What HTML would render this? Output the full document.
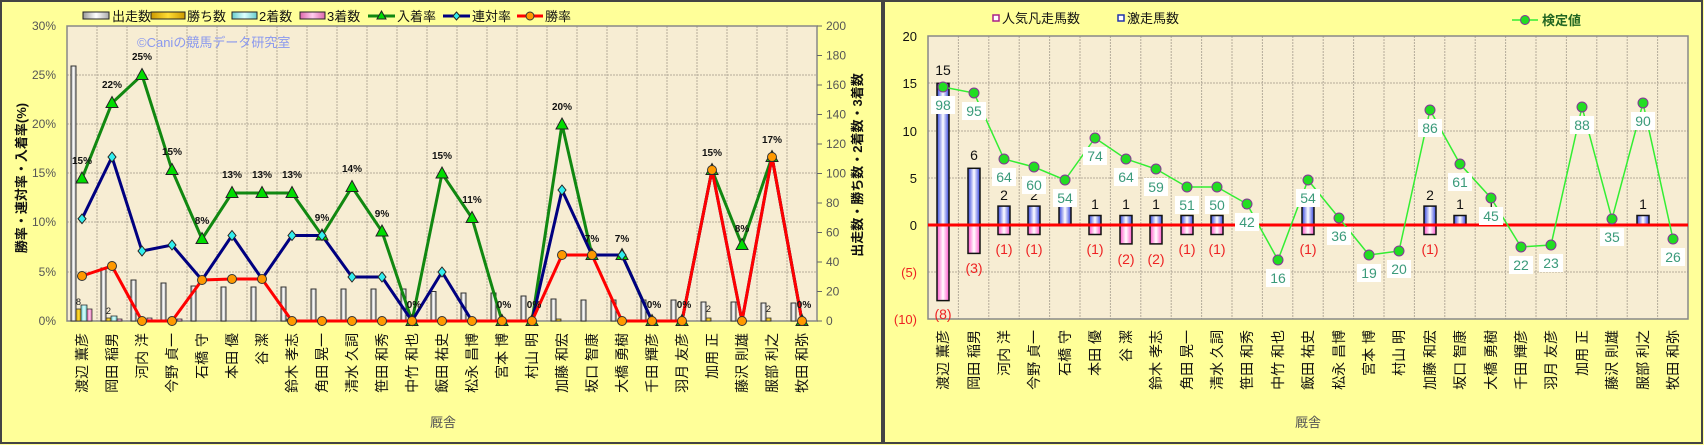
<!DOCTYPE html>
<html><head><meta charset="utf-8"><style>
html,body{margin:0;padding:0;background:#ffff99;}
svg{display:block;font-family:"Liberation Sans","Noto Sans CJK JP",sans-serif;}
</style></head><body>
<svg width="1704" height="445" viewBox="0 0 1704 445" xmlns="http://www.w3.org/2000/svg">
<defs>
<linearGradient id="gw" x1="0" x2="1"><stop offset="0" stop-color="#999"/><stop offset="0.5" stop-color="#fff"/><stop offset="1" stop-color="#aaa"/></linearGradient>
<linearGradient id="gb" x1="0" x2="1"><stop offset="0" stop-color="#3344dd"/><stop offset="0.5" stop-color="#ffffff"/><stop offset="1" stop-color="#3344dd"/></linearGradient>
<linearGradient id="gp" x1="0" x2="1"><stop offset="0" stop-color="#ff55cc"/><stop offset="0.5" stop-color="#ffffff"/><stop offset="1" stop-color="#ff55cc"/></linearGradient>
<linearGradient id="gy" x1="0" x2="1"><stop offset="0" stop-color="#cc9900"/><stop offset="0.5" stop-color="#ffdd33"/><stop offset="1" stop-color="#cc9900"/></linearGradient>
<linearGradient id="gc" x1="0" x2="1"><stop offset="0" stop-color="#66cccc"/><stop offset="0.5" stop-color="#ddffff"/><stop offset="1" stop-color="#66cccc"/></linearGradient>
<linearGradient id="gq" x1="0" x2="1"><stop offset="0" stop-color="#dd66aa"/><stop offset="0.5" stop-color="#ffccee"/><stop offset="1" stop-color="#dd66aa"/></linearGradient>
</defs>
<!-- panels -->
<rect x="1" y="1" width="881" height="442" fill="#ffff99" stroke="#444" stroke-width="2"/>
<rect x="884" y="1" width="818" height="442" fill="#ffff99" stroke="#444" stroke-width="2"/>

<!-- ============ LEFT CHART ============ -->
<rect x="67" y="26" width="750" height="295" fill="#f7edd3"/>
<g stroke="#b4ab9a" stroke-width="1" stroke-dasharray="2,1">
<line x1="67" x2="817" y1="75" y2="75"/><line x1="67" x2="817" y1="124" y2="124"/><line x1="67" x2="817" y1="173" y2="173"/><line x1="67" x2="817" y1="222" y2="222"/><line x1="67" x2="817" y1="272" y2="272"/>
<line x1="97" x2="97" y1="26" y2="321"/><line x1="127" x2="127" y1="26" y2="321"/><line x1="157" x2="157" y1="26" y2="321"/><line x1="187" x2="187" y1="26" y2="321"/><line x1="217" x2="217" y1="26" y2="321"/><line x1="247" x2="247" y1="26" y2="321"/><line x1="277" x2="277" y1="26" y2="321"/><line x1="307" x2="307" y1="26" y2="321"/><line x1="337" x2="337" y1="26" y2="321"/><line x1="367" x2="367" y1="26" y2="321"/><line x1="397" x2="397" y1="26" y2="321"/><line x1="427" x2="427" y1="26" y2="321"/><line x1="457" x2="457" y1="26" y2="321"/><line x1="487" x2="487" y1="26" y2="321"/><line x1="517" x2="517" y1="26" y2="321"/><line x1="547" x2="547" y1="26" y2="321"/><line x1="577" x2="577" y1="26" y2="321"/><line x1="607" x2="607" y1="26" y2="321"/><line x1="637" x2="637" y1="26" y2="321"/><line x1="667" x2="667" y1="26" y2="321"/><line x1="697" x2="697" y1="26" y2="321"/><line x1="727" x2="727" y1="26" y2="321"/><line x1="757" x2="757" y1="26" y2="321"/><line x1="787" x2="787" y1="26" y2="321"/>
</g>
<rect x="67" y="26" width="750" height="295" fill="none" stroke="#888" stroke-width="1.5"/>
<g stroke="#666" stroke-width="1">
<line x1="817" x2="822" y1="26" y2="26"/><line x1="817" x2="822" y1="55.5" y2="55.5"/><line x1="817" x2="822" y1="85" y2="85"/><line x1="817" x2="822" y1="114.5" y2="114.5"/><line x1="817" x2="822" y1="144" y2="144"/><line x1="817" x2="822" y1="173.5" y2="173.5"/><line x1="817" x2="822" y1="203" y2="203"/><line x1="817" x2="822" y1="232.5" y2="232.5"/><line x1="817" x2="822" y1="262" y2="262"/><line x1="817" x2="822" y1="291.5" y2="291.5"/><line x1="817" x2="822" y1="321" y2="321"/>
</g>
<text x="137" y="47" font-size="13" fill="#8a98ee">©Caniの競馬データ研究室</text>
<g font-size="12" fill="#555" text-anchor="end">
<text x="56" y="30">30%</text><text x="56" y="79">25%</text><text x="56" y="128">20%</text><text x="56" y="177">15%</text><text x="56" y="226">10%</text><text x="56" y="276">5%</text><text x="56" y="325">0%</text>
</g>
<g font-size="12" fill="#555">
<text x="826" y="30">200</text><text x="826" y="59.5">180</text><text x="826" y="89">160</text><text x="826" y="118.5">140</text><text x="826" y="148">120</text><text x="826" y="177.5">100</text><text x="826" y="207">80</text><text x="826" y="236.5">60</text><text x="826" y="266">40</text><text x="826" y="295.5">20</text><text x="826" y="325">0</text>
</g>
<text transform="translate(26,178) rotate(-90)" font-size="13" font-weight="bold" fill="#111" text-anchor="middle">勝率・連対率・入着率(%)</text>
<text transform="translate(862,165) rotate(-90)" font-size="13" font-weight="bold" fill="#111" text-anchor="middle">出走数・勝ち数・2着数・3着数</text>
<g font-size="13" fill="#111">
<rect x="83" y="12" width="26" height="7" fill="url(#gw)" stroke="#222"/><text x="112" y="21">出走数</text>
<rect x="151" y="12" width="34" height="7" fill="url(#gy)" stroke="#222"/><text x="187" y="21">勝ち数</text>
<rect x="232" y="12" width="25" height="7" fill="url(#gc)" stroke="#222"/><text x="259" y="21">2着数</text>
<rect x="300" y="12" width="25" height="7" fill="url(#gq)" stroke="#222"/><text x="327" y="21">3着数</text>
<line x1="368" x2="395" y1="16" y2="16" stroke="#118811" stroke-width="3"/><polygon points="381.5,11 386,19 377,19" fill="#00dd00" stroke="#222"/><text x="397" y="21">入着率</text>
<line x1="443" x2="470" y1="16" y2="16" stroke="#000080" stroke-width="3"/><polygon points="456.5,12 460,16 456.5,20 453,16" fill="#33eeee" stroke="#222"/><text x="472" y="21">連対率</text>
<line x1="517" x2="543" y1="16" y2="16" stroke="#ff0000" stroke-width="3"/><circle cx="530" cy="16" r="4" fill="#ff9900" stroke="#333"/><text x="545" y="21">勝率</text>
</g>
<g fill="url(#gw)" stroke="#333" stroke-width="1">
<rect x="71" y="66" width="5" height="255"/><rect x="101" y="268" width="5" height="53"/><rect x="131" y="280" width="5" height="41"/><rect x="161" y="283" width="5" height="38"/><rect x="191" y="286" width="5" height="35"/><rect x="221" y="287" width="5" height="34"/><rect x="251" y="287" width="5" height="34"/><rect x="281" y="287" width="5" height="34"/><rect x="311" y="289" width="5" height="32"/><rect x="341" y="289" width="5" height="32"/><rect x="371" y="289" width="5" height="32"/><rect x="401" y="289" width="5" height="32"/><rect x="431" y="291.5" width="5" height="29.5"/><rect x="461" y="293" width="5" height="28"/><rect x="491" y="293" width="5" height="28"/><rect x="521" y="296" width="5" height="25"/><rect x="551" y="299" width="5" height="22"/><rect x="581" y="300" width="5" height="21"/><rect x="611" y="300" width="5" height="21"/><rect x="641" y="300" width="5" height="21"/><rect x="671" y="300" width="5" height="21"/><rect x="701" y="302" width="5" height="19"/><rect x="731" y="302" width="5" height="19"/><rect x="761" y="303" width="5" height="18"/><rect x="791" y="303" width="5" height="18"/>
</g>
<g stroke="#333" stroke-width="0.8">
<rect x="76" y="309" width="5" height="12" fill="url(#gy)"/><rect x="81" y="305" width="6" height="16" fill="url(#gc)"/><rect x="87" y="309" width="5" height="12" fill="url(#gq)"/>
<rect x="106" y="318" width="5" height="3" fill="url(#gy)"/><rect x="111" y="316" width="6" height="5" fill="url(#gc)"/><rect x="117" y="319" width="5" height="2" fill="url(#gq)"/>
<rect x="147" y="318" width="5" height="3" fill="url(#gq)"/><rect x="177" y="319" width="5" height="2" fill="url(#gq)"/>
<rect x="287" y="319" width="5" height="2" fill="url(#gq)"/><rect x="556" y="319" width="5" height="2" fill="url(#gy)"/><rect x="706" y="318" width="5" height="3" fill="url(#gy)"/><rect x="766" y="318" width="5" height="3" fill="url(#gy)"/>
</g>
<g font-size="9" fill="#222"><text x="76" y="305">8</text><text x="106" y="314">2</text><text x="706" y="312">2</text><text x="766" y="312">2</text></g>
<polyline fill="none" stroke="#118811" stroke-width="3" points="82,178.5 112,103 142,75 172,170 202,239 232,193 262,193 292,193 322,235.5 352,187 382,231.5 412,321 442,173.5 472,218 502,321 532,321 562,124.4 592,255 622,255 652,321 682,321 712,170 742,245 772,157 802,321"/>
<polyline fill="none" stroke="#000080" stroke-width="3" points="82,218.8 112,157 142,251 172,245 202,280 232,235.5 262,279 292,235.5 322,235.5 352,277 382,277 412,321 442,272 472,321 502,321 532,321 562,190 592,255 622,255 652,321 682,321 712,170 742,321 772,157 802,321"/>
<polyline fill="none" stroke="#ff0000" stroke-width="3" points="82,276 112,266 142,321 172,321 202,280 232,279 262,279 292,321 322,321 352,321 382,321 412,321 442,321 472,321 502,321 532,321 562,255 592,255 622,321 652,321 682,321 712,170 742,321 772,157 802,321"/>
<g fill="#00dd00" stroke="#222" stroke-width="1">
<polygon points="82,172 88,183 76,183"/><polygon points="112,96.5 118,107.5 106,107.5"/><polygon points="142,68.5 148,79.5 136,79.5"/><polygon points="172,163.5 178,174.5 166,174.5"/><polygon points="202,232.5 208,243.5 196,243.5"/><polygon points="232,186.5 238,197.5 226,197.5"/><polygon points="262,186.5 268,197.5 256,197.5"/><polygon points="292,186.5 298,197.5 286,197.5"/><polygon points="322,229 328,240 316,240"/><polygon points="352,180.5 358,191.5 346,191.5"/><polygon points="382,225 388,236 376,236"/><polygon points="412,314.5 418,325.5 406,325.5"/><polygon points="442,167 448,178 436,178"/><polygon points="472,211.5 478,222.5 466,222.5"/><polygon points="502,314.5 508,325.5 496,325.5"/><polygon points="532,314.5 538,325.5 526,325.5"/><polygon points="562,118 568,129 556,129"/><polygon points="592,248.5 598,259.5 586,259.5"/><polygon points="622,248.5 628,259.5 616,259.5"/><polygon points="652,314.5 658,325.5 646,325.5"/><polygon points="682,314.5 688,325.5 676,325.5"/><polygon points="712,163.5 718,174.5 706,174.5"/><polygon points="742,238.5 748,249.5 736,249.5"/><polygon points="772,150.5 778,161.5 766,161.5"/><polygon points="802,314.5 808,325.5 796,325.5"/>
</g>
<g fill="#33eeee" stroke="#222" stroke-width="1">
<polygon points="82,214 86,218.8 82,223.6 78,218.8"/><polygon points="112,152 116,157 112,162 108,157"/><polygon points="142,246 146,251 142,256 138,251"/><polygon points="172,240 176,245 172,250 168,245"/><polygon points="232,230.5 236,235.5 232,240.5 228,235.5"/><polygon points="292,230.5 296,235.5 292,240.5 288,235.5"/><polygon points="322,230.5 326,235.5 322,240.5 318,235.5"/><polygon points="352,272 356,277 352,282 348,277"/><polygon points="382,272 386,277 382,282 378,277"/><polygon points="442,267 446,272 442,277 438,272"/><polygon points="562,185 566,190 562,195 558,190"/><polygon points="622,250 626,255 622,260 618,255"/>
</g>
<g fill="#ff9900" stroke="#333" stroke-width="1">
<circle cx="82" cy="276" r="4.5"/><circle cx="112" cy="266" r="4.5"/><circle cx="142" cy="321" r="4.5"/><circle cx="172" cy="321" r="4.5"/><circle cx="202" cy="280" r="4.5"/><circle cx="232" cy="279" r="4.5"/><circle cx="262" cy="279" r="4.5"/><circle cx="292" cy="321" r="4.5"/><circle cx="322" cy="321" r="4.5"/><circle cx="352" cy="321" r="4.5"/><circle cx="382" cy="321" r="4.5"/><circle cx="412" cy="321" r="4.5"/><circle cx="442" cy="321" r="4.5"/><circle cx="472" cy="321" r="4.5"/><circle cx="502" cy="321" r="4.5"/><circle cx="532" cy="321" r="4.5"/><circle cx="562" cy="255" r="4.5"/><circle cx="592" cy="255" r="4.5"/><circle cx="622" cy="321" r="4.5"/><circle cx="652" cy="321" r="4.5"/><circle cx="682" cy="321" r="4.5"/><circle cx="712" cy="170" r="4.5"/><circle cx="742" cy="321" r="4.5"/><circle cx="772" cy="157" r="4.5"/><circle cx="802" cy="321" r="4.5"/>
</g>
<g font-size="10" font-weight="bold" fill="#111" text-anchor="middle">
<text x="82" y="164">15%</text><text x="112" y="88">22%</text><text x="142" y="60">25%</text><text x="172" y="155">15%</text><text x="202" y="224">8%</text><text x="232" y="178">13%</text><text x="262" y="178">13%</text><text x="292" y="178">13%</text><text x="322" y="221">9%</text><text x="352" y="172">14%</text><text x="382" y="217">9%</text><text x="414" y="308">0%</text><text x="442" y="159">15%</text><text x="472" y="203">11%</text><text x="504" y="308">0%</text><text x="534" y="308">0%</text><text x="562" y="110">20%</text><text x="592" y="242">7%</text><text x="622" y="242">7%</text><text x="654" y="308">0%</text><text x="684" y="308">0%</text><text x="712" y="156">15%</text><text x="742" y="232">8%</text><text x="772" y="143">17%</text><text x="804" y="308">0%</text>
</g>
<g font-size="14" fill="#111" text-anchor="end">
<text transform="translate(87,333) rotate(-90)">渡辺 薫彦</text><text transform="translate(117,333) rotate(-90)">岡田 稲男</text><text transform="translate(147,333) rotate(-90)">河内 洋</text><text transform="translate(177,333) rotate(-90)">今野 貞一</text><text transform="translate(207,333) rotate(-90)">石橋 守</text><text transform="translate(237,333) rotate(-90)">本田 優</text><text transform="translate(267,333) rotate(-90)">谷 潔</text><text transform="translate(297,333) rotate(-90)">鈴木 孝志</text><text transform="translate(327,333) rotate(-90)">角田 晃一</text><text transform="translate(357,333) rotate(-90)">清水 久詞</text><text transform="translate(387,333) rotate(-90)">笹田 和秀</text><text transform="translate(417,333) rotate(-90)">中竹 和也</text><text transform="translate(447,333) rotate(-90)">飯田 祐史</text><text transform="translate(477,333) rotate(-90)">松永 昌博</text><text transform="translate(507,333) rotate(-90)">宮本 博</text><text transform="translate(537,333) rotate(-90)">村山 明</text><text transform="translate(567,333) rotate(-90)">加藤 和宏</text><text transform="translate(597,333) rotate(-90)">坂口 智康</text><text transform="translate(627,333) rotate(-90)">大橋 勇樹</text><text transform="translate(657,333) rotate(-90)">千田 輝彦</text><text transform="translate(687,333) rotate(-90)">羽月 友彦</text><text transform="translate(717,333) rotate(-90)">加用 正</text><text transform="translate(747,333) rotate(-90)">藤沢 則雄</text><text transform="translate(777,333) rotate(-90)">服部 利之</text><text transform="translate(807,333) rotate(-90)">牧田 和弥</text>
</g>
<text x="443" y="427" font-size="13" fill="#555" text-anchor="middle">厩舎</text>

<!-- ============ RIGHT CHART ============ -->
<rect x="928" y="36" width="760" height="283" fill="#f7edd3"/>
<g stroke="#b4ab9a" stroke-width="1" stroke-dasharray="2,1">
<line x1="928" x2="1688" y1="83" y2="83"/><line x1="928" x2="1688" y1="131" y2="131"/><line x1="928" x2="1688" y1="178" y2="178"/><line x1="928" x2="1688" y1="272" y2="272"/>
<line x1="958.4" x2="958.4" y1="36" y2="319"/><line x1="988.8" x2="988.8" y1="36" y2="319"/><line x1="1019.2" x2="1019.2" y1="36" y2="319"/><line x1="1049.6" x2="1049.6" y1="36" y2="319"/><line x1="1080" x2="1080" y1="36" y2="319"/><line x1="1110.4" x2="1110.4" y1="36" y2="319"/><line x1="1140.8" x2="1140.8" y1="36" y2="319"/><line x1="1171.2" x2="1171.2" y1="36" y2="319"/><line x1="1201.6" x2="1201.6" y1="36" y2="319"/><line x1="1232" x2="1232" y1="36" y2="319"/><line x1="1262.4" x2="1262.4" y1="36" y2="319"/><line x1="1292.8" x2="1292.8" y1="36" y2="319"/><line x1="1323.2" x2="1323.2" y1="36" y2="319"/><line x1="1353.6" x2="1353.6" y1="36" y2="319"/><line x1="1384" x2="1384" y1="36" y2="319"/><line x1="1414.4" x2="1414.4" y1="36" y2="319"/><line x1="1444.8" x2="1444.8" y1="36" y2="319"/><line x1="1475.2" x2="1475.2" y1="36" y2="319"/><line x1="1505.6" x2="1505.6" y1="36" y2="319"/><line x1="1536" x2="1536" y1="36" y2="319"/><line x1="1566.4" x2="1566.4" y1="36" y2="319"/><line x1="1596.8" x2="1596.8" y1="36" y2="319"/><line x1="1627.2" x2="1627.2" y1="36" y2="319"/><line x1="1657.6" x2="1657.6" y1="36" y2="319"/>
</g>
<rect x="928" y="36" width="760" height="283" fill="none" stroke="#888" stroke-width="1.5"/>
<g font-size="13" fill="#111" text-anchor="end">
<text x="917" y="41">20</text><text x="917" y="88">15</text><text x="917" y="136">10</text><text x="917" y="183">5</text><text x="917" y="230">0</text>
</g>
<g font-size="13" fill="#ee2222" text-anchor="end"><text x="917" y="277">(5)</text><text x="917" y="324">(10)</text></g>
<g font-size="13" fill="#111">
<rect x="993" y="15" width="6" height="6" fill="#fff" stroke="#aa2288" stroke-width="1.5"/><text x="1002" y="23">人気凡走馬数</text>
<rect x="1118" y="15" width="6" height="6" fill="#fff" stroke="#2233aa" stroke-width="1.5"/><text x="1127" y="23">激走馬数</text>
<line x1="1512" x2="1538" y1="20" y2="20" stroke="#33ee33" stroke-width="1.5"/><circle cx="1525" cy="20" r="4.5" fill="#22dd22" stroke="#883399"/>
<text x="1542" y="25" fill="#226622" font-weight="bold">検定値</text>
</g>
<g stroke="#111" stroke-width="1.5">
<rect x="937" y="83.3" width="12" height="141.7" fill="url(#gb)"/><rect x="968" y="168.3" width="12" height="56.7" fill="url(#gb)"/><rect x="998" y="206.1" width="12" height="18.9" fill="url(#gb)"/><rect x="1028" y="206.1" width="12" height="18.9" fill="url(#gb)"/><rect x="1059" y="206.1" width="12" height="18.9" fill="url(#gb)"/><rect x="1089" y="215.5" width="12" height="9.5" fill="url(#gb)"/><rect x="1120" y="215.5" width="12" height="9.5" fill="url(#gb)"/><rect x="1150" y="215.5" width="12" height="9.5" fill="url(#gb)"/><rect x="1181" y="215.5" width="12" height="9.5" fill="url(#gb)"/><rect x="1211" y="215.5" width="12" height="9.5" fill="url(#gb)"/><rect x="1241" y="215.5" width="12" height="9.5" fill="url(#gb)"/><rect x="1302" y="206.1" width="12" height="18.9" fill="url(#gb)"/><rect x="1424" y="206.1" width="12" height="18.9" fill="url(#gb)"/><rect x="1454" y="215.5" width="12" height="9.5" fill="url(#gb)"/><rect x="1485" y="215.5" width="12" height="9.5" fill="url(#gb)"/><rect x="1637" y="215.5" width="12" height="9.5" fill="url(#gb)"/>
<rect x="937" y="225" width="12" height="75.6" fill="url(#gp)"/><rect x="968" y="225" width="12" height="28.4" fill="url(#gp)"/><rect x="998" y="225" width="12" height="9.5" fill="url(#gp)"/><rect x="1028" y="225" width="12" height="9.5" fill="url(#gp)"/><rect x="1089" y="225" width="12" height="9.5" fill="url(#gp)"/><rect x="1120" y="225" width="12" height="18.9" fill="url(#gp)"/><rect x="1150" y="225" width="12" height="18.9" fill="url(#gp)"/><rect x="1181" y="225" width="12" height="9.5" fill="url(#gp)"/><rect x="1211" y="225" width="12" height="9.5" fill="url(#gp)"/><rect x="1302" y="225" width="12" height="9.5" fill="url(#gp)"/><rect x="1424" y="225" width="12" height="9.5" fill="url(#gp)"/>
</g>
<line x1="928" x2="1688" y1="225" y2="225" stroke="#ff0000" stroke-width="3"/>
<g font-size="14" fill="#111" text-anchor="middle">
<text x="943" y="75">15</text><text x="974" y="160">6</text><text x="1004" y="200">2</text><text x="1034" y="200">2</text><text x="1065" y="200">2</text><text x="1095" y="209">1</text><text x="1126" y="209">1</text><text x="1156" y="209">1</text><text x="1187" y="209">1</text><text x="1217" y="209">1</text><text x="1247" y="209">1</text><text x="1308" y="200">2</text><text x="1430" y="200">2</text><text x="1460" y="209">1</text><text x="1491" y="209">1</text><text x="1643" y="209">1</text>
</g>
<g font-size="14" fill="#ee2222" text-anchor="middle">
<text x="943" y="319">(8)</text><text x="974" y="273">(3)</text><text x="1004" y="254">(1)</text><text x="1034" y="254">(1)</text><text x="1095" y="254">(1)</text><text x="1126" y="264">(2)</text><text x="1156" y="264">(2)</text><text x="1187" y="254">(1)</text><text x="1217" y="254">(1)</text><text x="1308" y="254">(1)</text><text x="1430" y="254">(1)</text>
</g>
<polyline fill="none" stroke="#33ee33" stroke-width="1.5" points="943,87 974,93 1004,159 1034,167 1065,180 1095,138 1126,159 1156,169 1187,187 1217,187 1247,204 1278,260 1308,180 1339,218 1369,255 1399,251 1430,110 1460,164 1491,198 1521,247 1551,245 1582,107 1612,219 1643,103 1673,239"/>
<g fill="#fff">
<rect x="931" y="96" width="24" height="18"/><rect x="962" y="102" width="24" height="18"/><rect x="992" y="168" width="24" height="18"/><rect x="1022" y="176" width="24" height="18"/><rect x="1053" y="189" width="24" height="18"/><rect x="1083" y="147" width="24" height="18"/><rect x="1114" y="168" width="24" height="18"/><rect x="1144" y="178" width="24" height="18"/><rect x="1175" y="196" width="24" height="18"/><rect x="1205" y="196" width="24" height="18"/><rect x="1235" y="213" width="24" height="18"/><rect x="1266" y="269" width="24" height="18"/><rect x="1296" y="189" width="24" height="18"/><rect x="1327" y="227" width="24" height="18"/><rect x="1357" y="264" width="24" height="18"/><rect x="1387" y="260" width="24" height="18"/><rect x="1418" y="119" width="24" height="18"/><rect x="1448" y="173" width="24" height="18"/><rect x="1479" y="207" width="24" height="18"/><rect x="1509" y="256" width="24" height="18"/><rect x="1539" y="254" width="24" height="18"/><rect x="1570" y="116" width="24" height="18"/><rect x="1600" y="228" width="24" height="18"/><rect x="1631" y="112" width="24" height="18"/><rect x="1661" y="248" width="24" height="18"/>
</g>
<g font-size="14" fill="#3a9a7a" text-anchor="middle">
<text x="943" y="110">98</text><text x="974" y="116">95</text><text x="1004" y="182">64</text><text x="1034" y="190">60</text><text x="1065" y="203">54</text><text x="1095" y="161">74</text><text x="1126" y="182">64</text><text x="1156" y="192">59</text><text x="1187" y="210">51</text><text x="1217" y="210">50</text><text x="1247" y="227">42</text><text x="1278" y="283">16</text><text x="1308" y="203">54</text><text x="1339" y="241">36</text><text x="1369" y="278">19</text><text x="1399" y="274">20</text><text x="1430" y="133">86</text><text x="1460" y="187">61</text><text x="1491" y="221">45</text><text x="1521" y="270">22</text><text x="1551" y="268">23</text><text x="1582" y="130">88</text><text x="1612" y="242">35</text><text x="1643" y="126">90</text><text x="1673" y="262">26</text>
</g>
<g fill="#22dd22" stroke="#883399" stroke-width="1">
<circle cx="943" cy="87" r="5"/><circle cx="974" cy="93" r="5"/><circle cx="1004" cy="159" r="5"/><circle cx="1034" cy="167" r="5"/><circle cx="1065" cy="180" r="5"/><circle cx="1095" cy="138" r="5"/><circle cx="1126" cy="159" r="5"/><circle cx="1156" cy="169" r="5"/><circle cx="1187" cy="187" r="5"/><circle cx="1217" cy="187" r="5"/><circle cx="1247" cy="204" r="5"/><circle cx="1278" cy="260" r="5"/><circle cx="1308" cy="180" r="5"/><circle cx="1339" cy="218" r="5"/><circle cx="1369" cy="255" r="5"/><circle cx="1399" cy="251" r="5"/><circle cx="1430" cy="110" r="5"/><circle cx="1460" cy="164" r="5"/><circle cx="1491" cy="198" r="5"/><circle cx="1521" cy="247" r="5"/><circle cx="1551" cy="245" r="5"/><circle cx="1582" cy="107" r="5"/><circle cx="1612" cy="219" r="5"/><circle cx="1643" cy="103" r="5"/><circle cx="1673" cy="239" r="5"/>
</g>
<g font-size="14" fill="#111" text-anchor="end">
<text transform="translate(948,330) rotate(-90)">渡辺 薫彦</text><text transform="translate(979,330) rotate(-90)">岡田 稲男</text><text transform="translate(1009,330) rotate(-90)">河内 洋</text><text transform="translate(1039,330) rotate(-90)">今野 貞一</text><text transform="translate(1070,330) rotate(-90)">石橋 守</text><text transform="translate(1100,330) rotate(-90)">本田 優</text><text transform="translate(1131,330) rotate(-90)">谷 潔</text><text transform="translate(1161,330) rotate(-90)">鈴木 孝志</text><text transform="translate(1192,330) rotate(-90)">角田 晃一</text><text transform="translate(1222,330) rotate(-90)">清水 久詞</text><text transform="translate(1252,330) rotate(-90)">笹田 和秀</text><text transform="translate(1283,330) rotate(-90)">中竹 和也</text><text transform="translate(1313,330) rotate(-90)">飯田 祐史</text><text transform="translate(1344,330) rotate(-90)">松永 昌博</text><text transform="translate(1374,330) rotate(-90)">宮本 博</text><text transform="translate(1404,330) rotate(-90)">村山 明</text><text transform="translate(1435,330) rotate(-90)">加藤 和宏</text><text transform="translate(1465,330) rotate(-90)">坂口 智康</text><text transform="translate(1496,330) rotate(-90)">大橋 勇樹</text><text transform="translate(1526,330) rotate(-90)">千田 輝彦</text><text transform="translate(1556,330) rotate(-90)">羽月 友彦</text><text transform="translate(1587,330) rotate(-90)">加用 正</text><text transform="translate(1617,330) rotate(-90)">藤沢 則雄</text><text transform="translate(1648,330) rotate(-90)">服部 利之</text><text transform="translate(1678,330) rotate(-90)">牧田 和弥</text>
</g>
<text x="1308" y="427" font-size="13" fill="#555" text-anchor="middle">厩舎</text>
</svg>
</body></html>
